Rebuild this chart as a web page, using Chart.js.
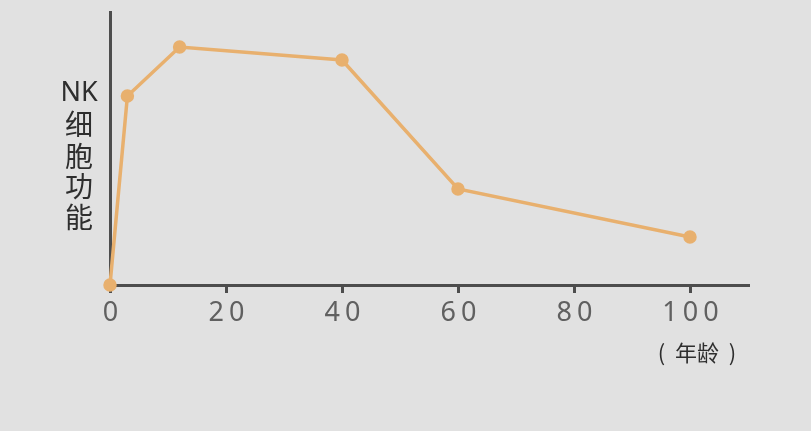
<!DOCTYPE html>
<html>
<head>
<meta charset="utf-8">
<script src="https://cdn.jsdelivr.net/npm/chart.js@4"></script>
<style>
  html, body { margin: 0; padding: 0; background: #e1e1e1; }
  #wrap { width: 811px; height: 431px; position: relative; }
</style>
</head>
<body>
<div id="wrap"><canvas id="chart" width="811" height="431"></canvas></div>
<script>
// age (years) and NK cell function
let ages = [0, 3, 12, 40, 60, 100];
let nkFunction = [0, 69.2, 87.2, 82.4, 35.2, 17.6];
let xTicks = [0, 20, 40, 60, 80, 100];
let yLabel = ["NK", "细", "胞", "功", "能"];
let xLabel = "(  年龄  )";

let lineColor = "#e8b06e";
let axisColor = "#4d4d4d";

// vertical y label and the age label under the axis
let labelsPlugin = {
    id: "labels",
    afterDraw(chart) {
        let ctx = chart.ctx;
        ctx.save();
        ctx.fillStyle = "#2e2e2e";
        ctx.textAlign = "center";
        ctx.textBaseline = "middle";
        let ys = [93, 124, 156, 186, 217];
        for (var i = 0; i < yLabel.length; i++) {
            ctx.font = i == 0 ? "27px 'Noto Sans'" : "28px 'Noto Sans CJK SC'";
            ctx.fillText(yLabel[i], 79, ys[i]);
        }
        ctx.font = "22px 'Noto Sans CJK SC'";
        ctx.fillText(xLabel, 697, 353);
        ctx.restore();
    }
};

let ctx = document.getElementById("chart");
let chart = new Chart(ctx, {
    type: "line",
    data: {
        datasets: [{
            data: ages.map((a, i) => ({x: a, y: nkFunction[i]})),
            borderColor: lineColor,
            backgroundColor: lineColor,
            borderWidth: 3.5,
            pointRadius: 5,
            pointHoverRadius: 5,
            tension: 0,
            clip: false
        }]
    },
    options: {
        responsive: false,
        animation: false,
        events: [],
        layout: { padding: { left: 0, right: 63, top: 12, bottom: 0 } },
        plugins: { legend: { display: false }, tooltip: { enabled: false } },
        scales: {
            x: {
                type: "linear",
                min: 0,
                max: 110,
                afterBuildTicks: s => { s.ticks = xTicks.map(v => ({value: v})); },
                afterFit: s => { s.height = 146; },
                border: { display: true, color: axisColor, width: 3 },
                grid: { drawOnChartArea: false, drawTicks: true, tickLength: 8, color: axisColor, lineWidth: 3 },
                ticks: {
                    color: "#606060",
                    font: { family: "'Noto Sans'", size: 27 },
                    padding: 4,
                    labelOffset: 3,
                    maxRotation: 0
                }
            },
            y: {
                min: 0,
                max: 100,
                afterFit: s => { s.width = 110; },
                border: { display: true, color: axisColor, width: 3 },
                grid: { display: false },
                ticks: { display: false }
            }
        }
    },
    plugins: [{
        id: "spacing",
        beforeDraw(chart) { chart.ctx.letterSpacing = "5px"; },
        afterDatasetsDraw(chart) { chart.ctx.letterSpacing = "0px"; }
    }, labelsPlugin]
});
</script>
</body>
</html>
